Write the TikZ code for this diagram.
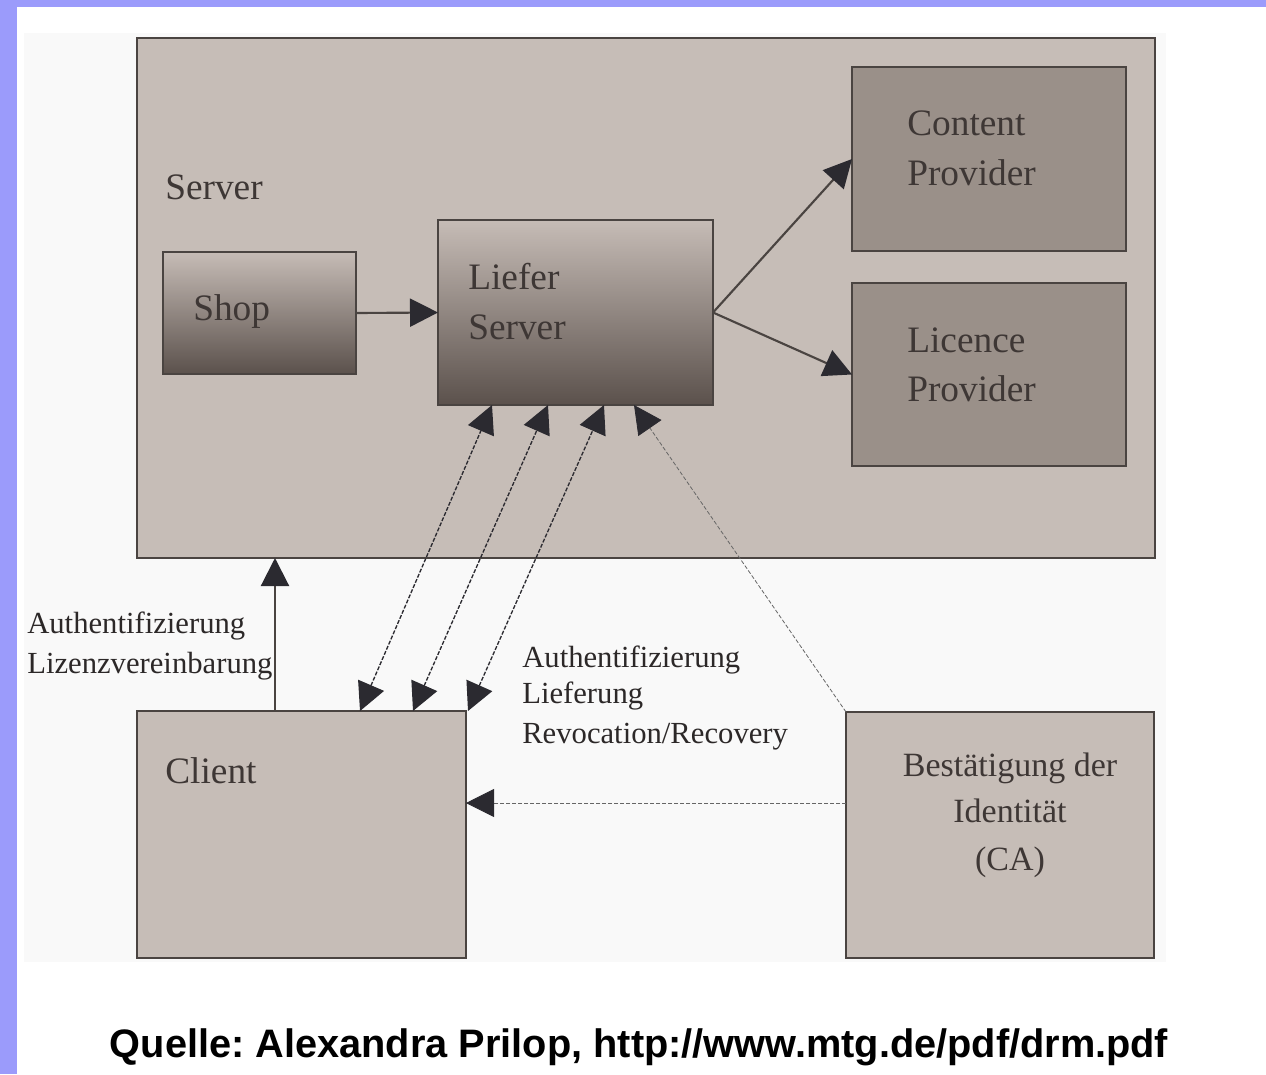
\documentclass[tikz,border=0pt]{standalone}
\usepackage{fontspec}
\setmainfont{Liberation Serif}
\newfontfamily\footfont{Liberation Sans}
\usetikzlibrary{arrows.meta,calc}
\frenchspacing
\definecolor{lav}{HTML}{9B9BFB}
\definecolor{pale}{HTML}{F9F9F9}
\definecolor{boxfill}{HTML}{C6BDB7}
\definecolor{provfill}{HTML}{9A9089}
\definecolor{gradtop}{HTML}{C6BCB6}
\definecolor{gradbot}{HTML}{5B514C}
\definecolor{edge}{HTML}{4A4441}
\definecolor{tipc}{HTML}{2B2A30}
\definecolor{boxtext}{HTML}{3E3735}
\definecolor{labtext}{HTML}{2C2828}
\tikzset{
  plainbox/.style={draw=edge, line width=1.4pt, fill=boxfill, inner sep=0pt, outer sep=0pt},
  provbox/.style={draw=edge, line width=1.4pt, fill=provfill, inner sep=0pt, outer sep=0pt},
  gradbox/.style={draw=edge, line width=1.4pt, top color=gradtop, bottom color=gradbot, inner sep=0pt, outer sep=0pt},
  bigtxt/.style={font=\fontsize{28}{33}\selectfont, text=boxtext, anchor=base west, inner sep=0pt},
  cattxt/.style={font=\fontsize{25.5}{30}\selectfont, text=boxtext, anchor=base, inner sep=0pt},
  labtxt/.style={font=\fontsize{23}{28}\selectfont, text=labtext, anchor=base west, inner sep=0pt},
  mytip/.tip={Triangle[length=21pt, width=21pt, color=tipc]},
  solidarrow/.style={draw=edge, line width=1.6pt, -mytip},
  duplex/.style={draw=tipc, line width=1pt, dash pattern=on 3pt off 1.2pt, mytip-mytip},
  thindash/.style={draw=gray!80!black, line width=0.6pt, dash pattern=on 3pt off 1.5pt, -mytip}
}
\begin{document}
\begin{tikzpicture}[x=0.75pt, y=-0.75pt]
\useasboundingbox (0,0) rectangle (1266,1074);
\fill[white] (0,0) rectangle (1266,1074);
\fill[pale] (24,33) rectangle (1166,962);
\fill[lav] (0,0) rectangle (1266,7);
\fill[lav] (0,0) rectangle (17,1074);

% boxes
\node[plainbox, minimum width=763.5pt, minimum height=390pt] (server) at (646,298) {};
\node[gradbox, minimum width=144.75pt, minimum height=91.5pt] (shop) at (259.5,313) {};
\node[gradbox, minimum width=206.25pt, minimum height=138.75pt] (liefer) at (575.5,312.5) {};
\node[provbox, minimum width=205.5pt, minimum height=138pt] (content) at (989,159) {};
\node[provbox, minimum width=205.5pt, minimum height=137.25pt] (licence) at (989,374.5) {};
\node[plainbox, minimum width=246.75pt, minimum height=185.25pt] (client) at (301.5,834.5) {};
\node[plainbox, minimum width=231pt, minimum height=184.5pt] (ca) at (1000,835) {};

% box texts
\node[bigtxt] (serverT) at (165,199) {Server};
\node[bigtxt] (shopT) at (193,320) {Shop};
\node[bigtxt] (lieferT1) at (468,289) {Liefer};
\node[bigtxt] (lieferT2) at (468,339) {Server};
\node[bigtxt] (contentT1) at (907,135) {Content};
\node[bigtxt] (contentT2) at (907,185) {Provider};
\node[bigtxt] (licenceT1) at (907,352) {Licence};
\node[bigtxt] (licenceT2) at (907,401) {Provider};
\node[bigtxt] (clientT) at (165,783) {Client};
\node[cattxt] (caT1) at (1010,776) {Bestätigung der};
\node[cattxt] (caT2) at (1010,822) {Identität};
\node[cattxt] (caT3) at (1010,870) {(CA)};

% labels
\node[labtxt] (labL1) at (27,633) {Authentifizierung};
\node[labtxt] (labL2) at (27,673) {Lizenzvereinbarung};
\node[labtxt] (labR1) at (522,667) {Authentifizierung};
\node[labtxt] (labR2) at (522,703) {Lieferung};
\node[labtxt] (labR3) at (522,743) {Revocation/Recovery};

% footer
\node[font=\footfont\bfseries\fontsize{29.8}{34}\selectfont, anchor=base, inner sep=0pt] (foot) at (639,1057) {Quelle: Alexandra Prilop, http://www.mtg.de/pdf/drm.pdf};

% connectors
\draw[solidarrow] (shop.east) -- (liefer.west);
\draw[solidarrow] (liefer.east) -- (content.west);
\draw[solidarrow] (liefer.east) -- (licence.west);
\draw[solidarrow] ($(client.north west)+(138,0)$) -- ($(server.south west)+(138,0)$);
\draw[duplex] ($(client.north west)+(223,0)$) -- ($(liefer.south west)+(54,0)$);
\draw[duplex] ($(client.north west)+(276,0)$) -- ($(liefer.south west)+(110,0)$);
\draw[duplex] ($(client.north east)+(2,0)$) -- ($(liefer.south west)+(166,0)$);
\draw[thindash] (ca.north west) -- ($(liefer.south west)+(196,0)$);
\draw[thindash] ($(ca.north west)+(0,91)$) -- ($(client.north east)+(0,92)$);
\end{tikzpicture}
\end{document}
